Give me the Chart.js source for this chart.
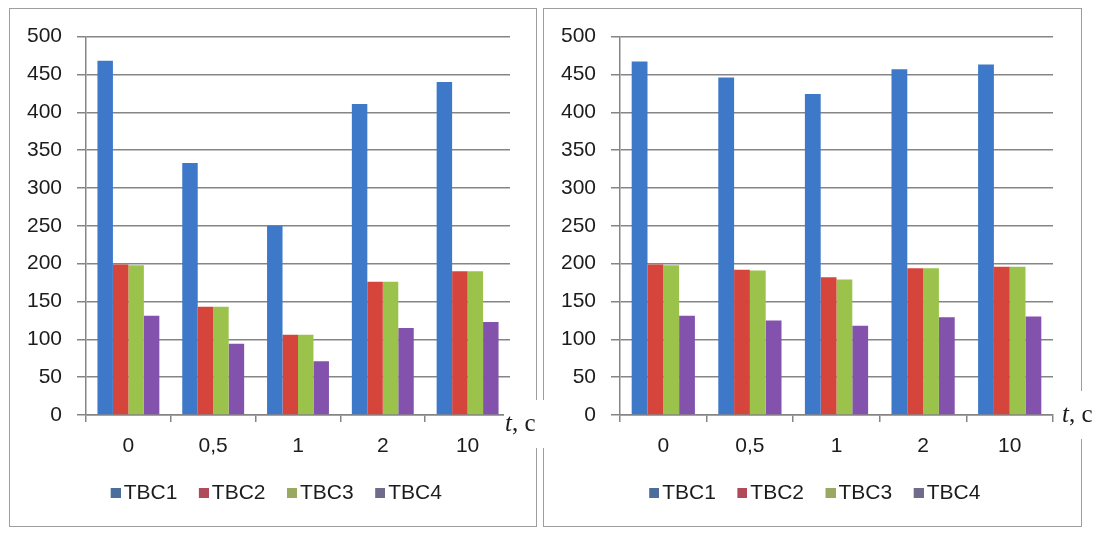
<!DOCTYPE html>
<html>
<head>
<meta charset="utf-8">
<script src="https://cdn.jsdelivr.net/npm/chart.js@4/dist/chart.umd.min.js"></script>
<style>
  html, body { margin: 0; padding: 0; background: #fff; width: 1096px; height: 533px; overflow: hidden; position: relative; }
  .frame { position: absolute; box-sizing: border-box; border: 1px solid #9e9e9e; }
  canvas { position: absolute; }
</style>
</head>
<body>
<div class="frame" style="left:9px;top:8px;width:528px;height:519px"></div>
<div class="frame" style="left:543px;top:8px;width:539px;height:519px"></div>
<canvas id="left" width="535" height="517" style="left:10px;top:9px"></canvas>
<canvas id="right" width="552" height="517" style="left:544px;top:9px"></canvas>
<script>
// Time points (s) and series names
const categories = ['0', '0,5', '1', '2', '10'];
const seriesNames = ['TBC1', 'TBC2', 'TBC3', 'TBC4'];

// Left panel values
const leftTBC1 = [468, 333, 250, 411, 440];
const leftTBC2 = [199, 143, 106, 176, 190];
const leftTBC3 = [198, 143, 106, 176, 190];
const leftTBC4 = [131, 94, 71, 115, 123];

// Right panel values
const rightTBC1 = [467, 446, 424, 457, 463];
const rightTBC2 = [199, 192, 182, 194, 196];
const rightTBC3 = [198, 191, 179, 194, 196];
const rightTBC4 = [131, 125, 118, 129, 130];

// Value axis
const yMin = 0;
const yMax = 500;
const yStep = 50;

// Axis unit label: italic symbol + upright unit
const unitSymbol = 't';
const unitText = ', c';

const barColors = ['#3d79c8', '#d6453b', '#9bc34c', '#8352ad'];
const swatchColors = ['#4b6d9b', '#b04c5a', '#99a962', '#706a8c'];
const gridColor = '#858585';

Chart.defaults.font.family = "'Liberation Sans', Arial, sans-serif";
Chart.defaults.font.size = 21;
Chart.defaults.color = '#1c1c1c';

// Legend swatch: 10px square placed at the right of a wider image,
// so it sits close to its label text
function makeSwatch(color) {
  const c = document.createElement('canvas');
  c.width = 18; c.height = 10;
  const g = c.getContext('2d');
  g.fillStyle = color;
  g.fillRect(8, 0, 10, 10);
  return c;
}
const swatches = swatchColors.map(makeSwatch);

// Draws the "t, c" unit next to the end of the category axis, on a white patch
const unitLabel = {
  id: 'unitLabel',
  afterDraw(chart, args, opts) {
    const ctx = chart.ctx;
    const y0 = chart.scales.y.getPixelForValue(0) + opts.dy;
    const x0 = chart.chartArea.right + opts.dx;
    ctx.save();
    ctx.font = "italic 25px 'Liberation Serif', 'Times New Roman', serif";
    const w1 = ctx.measureText(unitSymbol).width;
    ctx.fillStyle = '#ffffff';
    ctx.fillRect(x0 - 1, y0 - 24, chart.width - x0 + 1, 48);
    ctx.fillStyle = '#1c1c1c';
    ctx.textBaseline = 'middle';
    ctx.textAlign = 'left';
    ctx.fillText(unitSymbol, x0, y0);
    ctx.font = "25px 'Liberation Serif', 'Times New Roman', serif";
    ctx.fillText(unitText, x0 + w1, y0);
    ctx.restore();
  }
};

function makeChart(id, values, rightPad, unitDx, unitDy) {
  const datasets = values.map((v, i) => ({
    label: seriesNames[i],
    data: v,
    backgroundColor: barColors[i],
    borderWidth: 0,
    categoryPercentage: 0.73,
    barPercentage: 1.0
  }));
  return new Chart(document.getElementById(id), {
    type: 'bar',
    data: { labels: categories, datasets },
    plugins: [unitLabel],
    options: {
      responsive: false,
      animation: false,
      layout: { padding: { left: 32, right: rightPad, top: 26, bottom: 12.5 } },
      scales: {
        x: {
          grid: { display: true, drawOnChartArea: false, drawTicks: true, tickLength: 7, color: gridColor, lineWidth: 1.5, offset: true },
          border: { display: true, color: gridColor, width: 1.5 },
          ticks: { padding: 12, color: '#1c1c1c' },
          afterFit(scale) { scale.height = 46.5; }
        },
        y: {
          min: yMin, max: yMax,
          grid: { color: gridColor, lineWidth: 1.5, drawTicks: true, tickLength: 9 },
          border: { display: true, color: gridColor, width: 1.5 },
          ticks: { stepSize: yStep, padding: 15, color: '#1c1c1c' },
          afterFit(scale) {
            scale.width = 44;
            // tick labels sit left of the narrow axis box; do not clip them to it
            scale._computeLabelArea = () => undefined;
          }
        }
      },
      plugins: {
        tooltip: { enabled: false },
        unitLabel: { dx: unitDx, dy: unitDy },
        legend: {
          position: 'bottom',
          labels: {
            usePointStyle: true,
            pointStyleWidth: 3,
            boxHeight: 10,
            padding: 21,
            color: '#1c1c1c',
            generateLabels(chart) {
              const items = Chart.defaults.plugins.legend.labels.generateLabels(chart);
              items.forEach((it, i) => { it.pointStyle = swatches[i]; it.lineWidth = 0; });
              return items;
            }
          }
        }
      }
    }
  });
}

makeChart('left', [leftTBC1, leftTBC2, leftTBC3, leftTBC4], 35, -5, 9);
makeChart('right', [rightTBC1, rightTBC2, rightTBC3, rightTBC4], 43, 9, 0);
</script>
</body>
</html>
